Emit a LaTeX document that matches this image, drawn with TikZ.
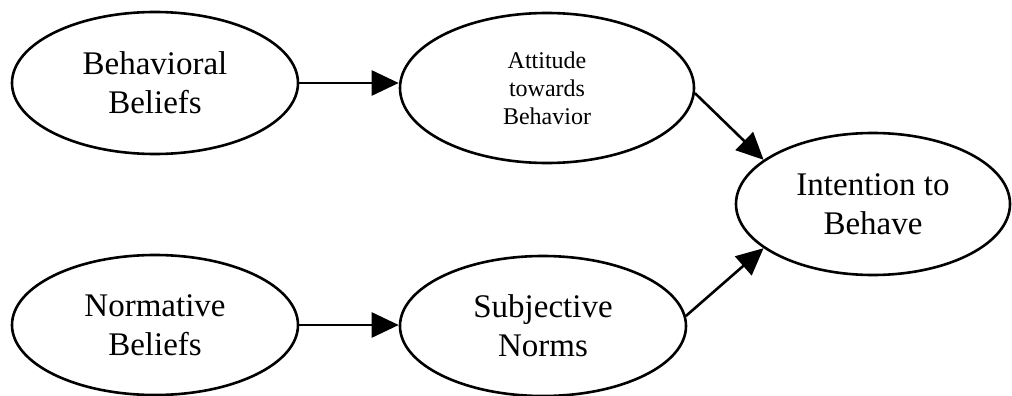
\documentclass[tikz,border=0pt]{standalone}
\usepackage{fontspec}
\setmainfont{Liberation Serif}
\usetikzlibrary{shapes.geometric,arrows.meta}
\begin{document}
\begin{tikzpicture}[x=1pt,y=-1pt,
  oval/.style={draw=black,line width=2.6pt,ellipse,inner sep=0pt,align=center,
    font=\fontsize{33}{39}\selectfont},
  arr/.style={line width=2.6pt,-{Triangle[length=27pt,width=25pt]}}]
\useasboundingbox (0,0) rectangle (1012,396);
\node[oval,minimum width=286pt,minimum height=142pt] (b) at (155,83) {Behavioral\\Beliefs};
\node[oval,minimum width=294pt,minimum height=150pt,font=\fontsize{24}{28}\selectfont] (a) at (547,88) {Attitude\\towards\\Behavior};
\node[oval,minimum width=274pt,minimum height=142pt] (i) at (873,204) {Intention to\\Behave};
\node[oval,minimum width=286pt,minimum height=140pt] (n) at (155,325) {Normative\\Beliefs};
\node[oval,minimum width=286pt,minimum height=140pt] (s) at (543,326) {Subjective\\Norms};
\draw[arr] (b.east) -- (a.west |- b.east);
\draw[arr] (n.east) -- (s.west |- n.east);
\draw[arr] (a.-2) -- (i.158);
\draw[arr] (s.4) -- (i.202);
\end{tikzpicture}
\end{document}
